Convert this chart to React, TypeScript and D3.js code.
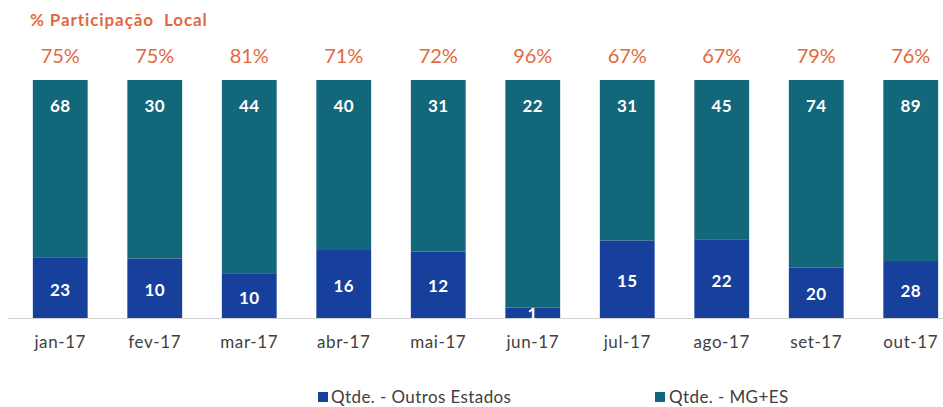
import React from "react";
import * as d3 from "d3";

const categories = ["jan-17", "fev-17", "mar-17", "abr-17", "mai-17", "jun-17", "jul-17", "ago-17", "set-17", "out-17"];
const outrosEstados = [23, 10, 10, 16, 12, 1, 15, 22, 20, 28];
const mgEs = [68, 30, 44, 40, 31, 22, 31, 45, 74, 89];
const seriesNames = ["Qtde. - Outros Estados", "Qtde. - MG+ES"];
const title = "% Participação  Local";

const W = 943;
const H = 407;
const FONT = "Lato, 'Open Sans', sans-serif";
const BLUE = "#173f9c";
const TEAL = "#12677a";
const ORANGE = "#e2693f";

export default function App() {
  const x = d3.scaleBand<string>().domain(categories).range([13, 958]).paddingInner(0.42).paddingOuter(0.21);
  const y = d3.scaleLinear().domain([0, 1]).range([318, 80]);

  const rows = categories.map((c, i) => ({ cat: c, outros: outrosEstados[i], mg: mgEs[i] }));
  const stack = d3.stack<any>().keys(["outros", "mg"]).offset(d3.stackOffsetExpand);
  const series = stack(rows);
  const colors = [BLUE, TEAL];

  return (
    <div style={{ position: "absolute", left: 0, top: 0 }}>
      <svg width={W} height={H} style={{ display: "block", background: "#fff" }}>
        <text x={30} y={26} fontFamily={FONT} fontWeight="bold" fontSize={17} letterSpacing={0.9} fill={ORANGE} style={{ whiteSpace: "pre" }}>
          {title}
        </text>
        {series.map((s, si) =>
          s.map((d, i) => {
            const x0 = x(categories[i])!;
            const y0 = y(d[1]);
            const y1 = y(d[0]);
            return (
              <rect key={`${si}-${i}`} x={x0} y={y0} width={x.bandwidth()} height={y1 - y0} fill={colors[si]} />
            );
          })
        )}
        <line x1={8} x2={943} y1={318.5} y2={318.5} stroke="#d0d0d0" strokeWidth={1} />
        {series[0].map((d, i) => {
          const cx = x(categories[i])! + x.bandwidth() / 2;
          const cy = (y(d[0]) + y(d[1])) / 2 + 1.5;
          return (
            <text key={`lb-${i}`} x={cx} y={cy} dy="0.36em" textAnchor="middle" fontFamily={FONT} fontWeight="bold" fontSize={17} letterSpacing={0.5} fill="#fff">
              {outrosEstados[i]}
            </text>
          );
        })}
        {series[1].map((d, i) => {
          const cx = x(categories[i])! + x.bandwidth() / 2;
          const cy = y(d[1]) + 26;
          return (
            <text key={`lt-${i}`} x={cx} y={cy} dy="0.36em" textAnchor="middle" fontFamily={FONT} fontWeight="bold" fontSize={17} letterSpacing={0.5} fill="#fff">
              {mgEs[i]}
            </text>
          );
        })}
        {categories.map((c, i) => {
          const cx = x(c)! + x.bandwidth() / 2;
          const pct = Math.round((mgEs[i] / (mgEs[i] + outrosEstados[i])) * 100);
          return (
            <g key={`c-${i}`}>
              <text x={cx} y={56} dy="0.36em" textAnchor="middle" fontFamily={FONT} fontSize={20} fill={ORANGE}>
                {pct}%
              </text>
              <text x={cx} y={342} dy="0.36em" textAnchor="middle" fontFamily={FONT} fontSize={17} letterSpacing={0.6} fill="#404040">
                {c}
              </text>
            </g>
          );
        })}
        <g fontFamily={FONT} fontSize={17} letterSpacing={0.4} fill="#404040">
          <rect x={318} y={392} width={10} height={10} fill={BLUE} />
          <text x={331} y={397} dy="0.36em">{seriesNames[0]}</text>
          <rect x={655} y={392} width={10} height={10} fill={TEAL} />
          <text x={669} y={397} dy="0.36em">{seriesNames[1]}</text>
        </g>
      </svg>
    </div>
  );
}
